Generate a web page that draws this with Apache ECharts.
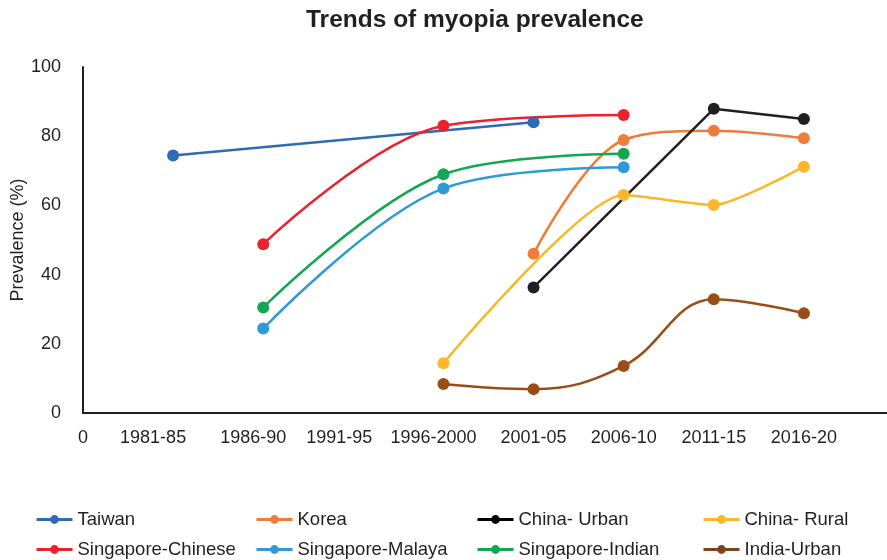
<!DOCTYPE html>
<html>
<head>
<meta charset="utf-8">
<script src="https://cdn.jsdelivr.net/npm/echarts@6/dist/echarts.min.js"></script>
<style>html,body{margin:0;padding:0;background:#fff}#c{width:887px;height:560px}</style>
</head>
<body>
<div id="c"></div>
<script>
// ---- data ----
var categories = ["0", "1981-85", "1986-90", "1991-95", "1996-2000", "2001-05", "2006-10", "2011-15", "2016-20", ""];
var seriesNames = ["Taiwan", "Korea", "China- Urban", "China- Rural", "Singapore-Chinese", "Singapore-Malaya", "Singapore-Indian", "India-Urban"];
var taiwan          = [null, 74.4, null, null, null, 84.0, null, null, null, null];
var korea           = [null, null, null, null, null, 46.0, 78.9, 81.6, 79.4, null];
var chinaUrban      = [null, null, null, null, null, 36.3, null, 87.9, 85.0, null];
var chinaRural      = [null, null, null, null, 14.4, null, 63.0, 60.1, 71.2, null];
var singaporeChinese= [null, null, 48.8, null, 83.0, null, 86.1, null, null, null];
var singaporeMalaya = [null, null, 24.4, null, 64.9, null, 71.0, null, null, null];
var singaporeIndian = [null, null, 30.5, null, 69.0, null, 74.9, null, null, null];
var indiaUrban      = [null, null, null, null, 8.4, 6.9, 13.6, 32.9, 28.8, null];
var yTicks = [0, 20, 40, 60, 80, 100];

// ---- styles ----
var FONT = "'Liberation Sans', Arial, Helvetica, sans-serif";
var TXT = '#231f20';
var colors = ['#2f6ab3', '#ee7d3b', '#231f20', '#f9b729', '#e9222d', '#2f9ad6', '#14a650', '#9a4e17'];
var legendColors = ['#2f6ab3', '#ee7d3b', '#000000', '#f9b729', '#e9222d', '#2f9ad6', '#14a650', '#7e4419'];
var smoothing = [false, 0.35, false, 0.2, 0.35, 0.35, 0.35, 0.4];
var allData = [taiwan, korea, chinaUrban, chinaRural, singaporeChinese, singaporeMalaya, singaporeIndian, indiaUrban];
var labelShift = {1: 's20', 2: 's10', 3: 's14', 4: 's10'};

var legendPos = [
  [35, 510], [255, 510], [476, 510], [702, 510],
  [35, 540], [255, 540], [476, 540], [702, 540]
];

var series = seriesNames.map(function (name, i) {
  return {
    name: name,
    type: 'line',
    data: allData[i],
    connectNulls: true,
    smooth: smoothing[i],
    symbol: 'circle',
    symbolSize: 12,
    showSymbol: true,
    lineStyle: { width: 2.5, color: colors[i] },
    itemStyle: { color: colors[i] },
    emphasis: { disabled: true },
    animation: false
  };
});

var legends = seriesNames.map(function (name, i) {
  return {
    data: [{ name: name, itemStyle: { color: legendColors[i] }, lineStyle: { color: legendColors[i], width: 3 } }],
    left: legendPos[i][0],
    top: legendPos[i][1],
    padding: 0,
    itemWidth: 36,
    itemHeight: 11,
    itemGap: 4,
    textStyle: { fontFamily: FONT, fontSize: 18.5, color: TXT },
    selectedMode: false
  };
});

var chart = echarts.init(document.getElementById('c'), null, { renderer: 'canvas' });
chart.setOption({
  backgroundColor: '#fff',
  animation: false,
  title: {
    text: 'Trends of myopia prevalence',
    left: 306,
    top: 8,
    padding: 0,
    textStyle: { fontFamily: FONT, fontSize: 24.5, fontWeight: 'bold', color: TXT }
  },
  legend: legends,
  grid: { left: 83, right: -7, top: 67, bottom: 147, containLabel: false, outerBoundsMode: 'none' },
  xAxis: {
    type: 'category',
    data: categories,
    boundaryGap: false,
    axisLine: { show: true, lineStyle: { color: TXT, width: 2 } },
    axisTick: { show: false },
    splitLine: { show: false },
    axisLabel: {
      interval: 0,
      margin: 16,
      fontFamily: FONT,
      fontSize: 18,
      color: TXT,
      formatter: function (v, idx) {
        if (!v) return '';
        var s = labelShift[idx];
        return s ? '{' + s + '|' + v + '}' : v;
      },
      rich: {
        s20: { fontFamily: FONT, fontSize: 18, color: TXT, padding: [0, 40, 0, 0] },
        s14: { fontFamily: FONT, fontSize: 18, color: TXT, padding: [0, 28, 0, 0] },
        s10: { fontFamily: FONT, fontSize: 18, color: TXT, padding: [0, 20, 0, 0] }
      }
    }
  },
  yAxis: {
    type: 'value',
    min: yTicks[0],
    max: yTicks[yTicks.length - 1],
    interval: yTicks[1] - yTicks[0],
    name: 'Prevalence (%)',
    nameLocation: 'middle',
    nameGap: 56,
    nameMoveOverlap: false,
    nameTextStyle: { fontFamily: FONT, fontSize: 18, color: TXT },
    axisLine: { show: true, lineStyle: { color: TXT, width: 2 } },
    axisTick: { show: false },
    splitLine: { show: false },
    axisLabel: { margin: 22, fontFamily: FONT, fontSize: 18, color: TXT }
  },
  series: series
});
</script>
</body>
</html>
